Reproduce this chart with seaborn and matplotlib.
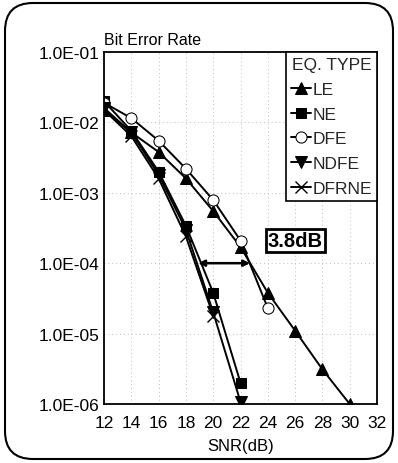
import numpy as np
import pandas as pd
import matplotlib
matplotlib.use("Agg")
import matplotlib.pyplot as plt
import seaborn as sns
from matplotlib.patches import FancyBboxPatch
from matplotlib.ticker import FixedLocator, FuncFormatter, NullLocator

# ---- data ----
snr_le = [12, 14, 16, 18, 20, 22, 24, 26, 28, 30]
ber_le = [1.5e-2, 7.2e-3, 3.8e-3, 1.6e-3, 5.5e-4, 1.7e-4, 3.8e-5, 1.1e-5, 3.1e-6, 1.0e-6]

snr_ne = [12, 14, 16, 18, 20, 22]
ber_ne = [2.0e-2, 7.6e-3, 2.0e-3, 3.4e-4, 3.8e-5, 2.0e-6]

snr_dfe = [12, 14, 16, 18, 20, 22, 24]
ber_dfe = [1.9e-2, 1.15e-2, 5.5e-3, 2.2e-3, 7.9e-4, 2.1e-4, 2.3e-5]

snr_ndfe = [12, 14, 16, 18, 20, 22]
ber_ndfe = [1.6e-2, 7.2e-3, 1.8e-3, 3.0e-4, 2.0e-5, 1.07e-6]

snr_dfrne = [12, 14, 16, 18, 20]
ber_dfrne = [1.5e-2, 6.4e-3, 1.6e-3, 2.4e-4, 1.8e-5]

series_names = ["LE", "NE", "DFE", "NDFE", "DFRNE"]
x_ticks = [12, 14, 16, 18, 20, 22, 24, 26, 28, 30, 32]
y_ticks = [1e-1, 1e-2, 1e-3, 1e-4, 1e-5, 1e-6]
gap_label = "3.8dB"
gap_from, gap_to, gap_level = 18.9, 22.7, 1e-4

sns.set_theme(style="white")
plt.rcParams['font.family'] = ['Liberation Sans', 'DejaVu Sans']

fig = plt.figure(figsize=(3.98, 4.64), dpi=100)
ax = fig.add_axes([104/398, 1-405/464, (377-104)/398, (405-53)/464])

data = {
    "LE": (snr_le, ber_le, dict(marker="^", markerfacecolor="black", markersize=8)),
    "NE": (snr_ne, ber_ne, dict(marker="s", markerfacecolor="black", markersize=7.5)),
    "DFE": (snr_dfe, ber_dfe, dict(marker="o", markerfacecolor="white", markersize=8)),
    "NDFE": (snr_ndfe, ber_ndfe, dict(marker="v", markerfacecolor="black", markersize=8)),
    "DFRNE": (snr_dfrne, ber_dfrne, dict(marker="x", markersize=8, markeredgewidth=1.0)),
}
for name in series_names:
    xs, ys, kw = data[name]
    df = pd.DataFrame({"SNR": xs, "BER": ys})
    sns.lineplot(data=df, x="SNR", y="BER", ax=ax, color="black", linewidth=1.4,
                 markeredgecolor="black", label=name, **kw)

ax.set_yscale("log")
ax.set_xlim(12, 32)
ax.set_ylim(1e-6, 1e-1)
ax.xaxis.set_major_locator(FixedLocator(x_ticks))
ax.yaxis.set_major_locator(FixedLocator(y_ticks))
ax.yaxis.set_minor_locator(NullLocator())
ax.yaxis.set_major_formatter(FuncFormatter(lambda v, p: "1.0E-%02d" % int(round(-np.log10(v)))))
ax.tick_params(axis="y", length=0, labelsize=12.5, colors="black", pad=3)
ax.tick_params(axis="x", length=0, labelsize=12.5, colors="black", pad=8)
ax.set_xlabel("SNR(dB)", fontsize=12, color="black", labelpad=6)
ax.set_ylabel("")
for s in ax.spines.values():
    s.set_color("black")
    s.set_linewidth(1.3)
ax.grid(True, which="major", color="#bbbbbb", linestyle=(0, (1, 3)), linewidth=0.7)

ax.text(0.0, 1.015, "Bit Error Rate", transform=ax.transAxes, ha="left", va="bottom",
        fontsize=11.5, color="black")

# arrow and label
ax.annotate("", xy=(gap_to, gap_level), xytext=(gap_from, gap_level),
            arrowprops=dict(arrowstyle="<|-|>", color="black", lw=1.8,
                            mutation_scale=9, shrinkA=0, shrinkB=0))
ax.text(26.0, 2.1e-4, gap_label, ha="center", va="center", fontsize=14.5, fontweight="bold",
        color="black", bbox=dict(boxstyle="square,pad=0.1", facecolor="white",
                                 edgecolor="black", linewidth=2.0))

leg = ax.legend(title="EQ. TYPE", loc="upper right", fontsize=12.5, title_fontsize=12.5,
                frameon=True, fancybox=False, framealpha=1, edgecolor="black",
                borderaxespad=0.0, handlelength=1.1, handletextpad=0.1,
                labelspacing=0.55, borderpad=0.3)
leg.get_frame().set_linewidth(1.2)

# outer rounded frame
frame = FancyBboxPatch((0.05, 0.04), 3.88, 4.56, boxstyle="round,pad=0,rounding_size=0.28",
                       transform=fig.dpi_scale_trans, facecolor="none", edgecolor="black",
                       linewidth=1.5)
fig.patches.append(frame)

fig.savefig("out.png", dpi=100)
